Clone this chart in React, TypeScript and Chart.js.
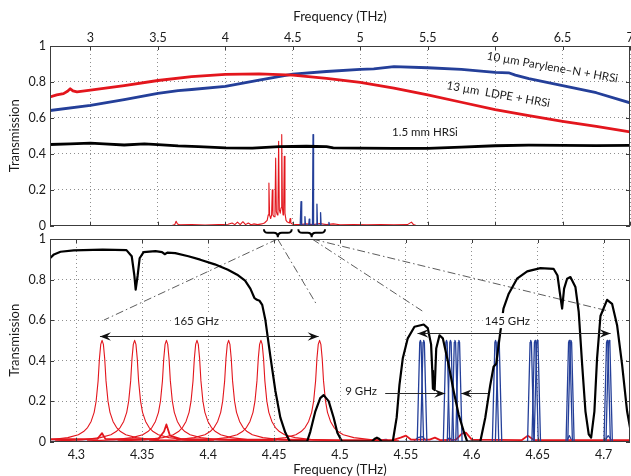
import React, { useEffect, useRef } from 'react';
import { Chart, registerables } from 'chart.js';

Chart.register(...registerables);

// ---------------- data: upper panel (broadband) ----------------
const TOP_X_TICKS = [3, 3.5, 4, 4.5, 5, 5.5, 6, 6.5, 7];
const Y_TICKS = [0, 0.2, 0.4, 0.6, 0.8, 1];

const LDPE_X = [2.70, 2.75, 2.80, 2.83, 2.85, 2.87, 2.90, 3.00, 3.25, 3.50, 3.75, 4.00, 4.25, 4.50, 4.75, 5.00, 5.25, 5.50, 5.75, 6.00, 6.25, 6.50, 6.75, 7.00];
const LDPE_Y = [0.717, 0.728, 0.735, 0.748, 0.762, 0.75, 0.745, 0.754, 0.78, 0.808, 0.83, 0.842, 0.845, 0.838, 0.82, 0.797, 0.766, 0.728, 0.687, 0.646, 0.613, 0.581, 0.553, 0.522];

const PARYLENE_X = [2.70, 3.00, 3.25, 3.50, 3.65, 3.75, 4.00, 4.25, 4.50, 4.75, 5.00, 5.10, 5.25, 5.50, 5.75, 6.00, 6.10, 6.15, 6.25, 6.50, 6.75, 7.00];
const PARYLENE_Y = [0.641, 0.669, 0.702, 0.736, 0.752, 0.758, 0.775, 0.81, 0.843, 0.858, 0.87, 0.873, 0.885, 0.879, 0.87, 0.853, 0.851, 0.838, 0.818, 0.78, 0.74, 0.684];

const HRSI_X = [2.70, 2.85, 3.00, 3.10, 3.25, 3.40, 3.50, 3.65, 3.80, 4.00, 4.20, 4.40, 4.60, 4.75, 4.80, 5.00, 5.25, 5.50, 5.75, 6.00, 6.25, 6.50, 6.75, 7.00];
const HRSI_Y = [0.452, 0.455, 0.46, 0.455, 0.449, 0.455, 0.451, 0.444, 0.44, 0.433, 0.432, 0.44, 0.442, 0.44, 0.433, 0.432, 0.43, 0.43, 0.437, 0.445, 0.448, 0.447, 0.446, 0.447];

const TOP_RED_FILTER_X = [3.60, 3.625, 3.635, 3.645, 3.66, 3.75, 3.85, 3.95, 4.02, 4.05, 4.07, 4.09, 4.11, 4.13, 4.15, 4.17, 4.19, 4.21, 4.24, 4.27,
  4.29, 4.31, 4.318, 4.323, 4.328, 4.336, 4.343, 4.348, 4.353, 4.361, 4.368, 4.373, 4.378, 4.385, 4.39, 4.395, 4.40, 4.407, 4.413, 4.418, 4.423, 4.428, 4.432, 4.437, 4.442, 4.45, 4.46, 4.475, 4.48, 4.485,
  4.50, 4.55, 4.60, 4.65, 4.70, 4.75, 4.80, 4.85, 4.95, 5.05, 5.15, 5.25, 5.35, 5.38, 5.395, 5.42];
const TOP_RED_FILTER_Y = [0.0, 0.006, 0.025, 0.01, 0.005, 0.006, 0.004, 0.006, 0.008, 0.015, 0.006, 0.02, 0.006, 0.022, 0.006, 0.015, 0.005, 0.01, 0.006, 0.01,
  0.015, 0.03, 0.06, 0.237, 0.06, 0.04, 0.06, 0.20, 0.06, 0.05, 0.08, 0.376, 0.08, 0.06, 0.09, 0.47, 0.09, 0.07, 0.1, 0.507, 0.1, 0.06, 0.08, 0.386, 0.07, 0.03, 0.02, 0.015, 0.04, 0.015,
  0.008, 0.006, 0.01, 0.006, 0.012, 0.006, 0.01, 0.005, 0.006, 0.005, 0.006, 0.005, 0.006, 0.02, 0.006, 0.0];

const TOP_BLUE_FILTER_X = [4.555, 4.561, 4.566, 4.586, 4.59, 4.594, 4.618, 4.622, 4.626, 4.646, 4.65, 4.654, 4.675, 4.679, 4.683, 4.702, 4.706, 4.71, 4.764, 4.768, 4.772];
const TOP_BLUE_FILTER_Y = [0.003, 0.134, 0.003, 0.003, 0.05, 0.003, 0.003, 0.037, 0.003, 0.003, 0.507, 0.003, 0.003, 0.12, 0.003, 0.003, 0.073, 0.003, 0.0, 0.018, 0.0];

const TOP_BLUE_BASE_X = [2.70, 7.00];
const TOP_BLUE_BASE_Y = [0.0, 0.0];

// ---------------- data: lower panel (zoom 4.28 - 4.72 THz) ----------------
const BOTTOM_X_TICKS = [4.3, 4.35, 4.4, 4.45, 4.5, 4.55, 4.6, 4.65, 4.7];

const BANDPASS_X = [4.280, 4.283, 4.288, 4.298, 4.320, 4.338, 4.342, 4.344, 4.345, 4.3465, 4.348, 4.351, 4.360, 4.365, 4.367, 4.369, 4.375, 4.385, 4.394, 4.405, 4.415, 4.422, 4.428, 4.432, 4.435, 4.437, 4.439, 4.441,
  4.4434, 4.4472, 4.451, 4.4547, 4.4585, 4.462, 4.475, 4.4775, 4.4813, 4.485, 4.4876, 4.4914, 4.4952, 4.498, 4.5016, 4.524, 4.5265, 4.528, 4.5295, 4.532, 4.540,
  4.543, 4.5451, 4.5476, 4.5514, 4.5565, 4.5635, 4.5666, 4.5691, 4.5700, 4.5705, 4.5718, 4.573, 4.5755, 4.578, 4.5824, 4.5862, 4.590, 4.5938, 4.5965, 4.6064,
  4.6102, 4.614, 4.6165, 4.6185, 4.621, 4.624, 4.628, 4.6343, 4.642, 4.652, 4.662, 4.665, 4.6667, 4.6685, 4.670, 4.6723, 4.6748, 4.6786, 4.6811, 4.6837, 4.6862, 4.6887, 4.6905,
  4.693, 4.695, 4.6976, 4.7026, 4.7064, 4.7102, 4.714, 4.7178, 4.720];
const BANDPASS_Y = [0.905, 0.924, 0.937, 0.944, 0.948, 0.945, 0.915, 0.82, 0.75, 0.82, 0.905, 0.935, 0.94, 0.935, 0.925, 0.933, 0.93, 0.915, 0.898, 0.875, 0.848, 0.824, 0.795, 0.755, 0.71, 0.70, 0.695, 0.675,
  0.60, 0.42, 0.25, 0.12, 0.045, 0.0, 0.0, 0.05, 0.15, 0.215, 0.23, 0.2, 0.118, 0.044, 0.0, 0.0, 0.015, 0.02, 0.015, 0.0, 0.0,
  0.12, 0.28, 0.41, 0.51, 0.567, 0.578, 0.56, 0.48, 0.35, 0.262, 0.255, 0.46, 0.525, 0.51, 0.38, 0.25, 0.134, 0.052, 0.0, 0.0,
  0.118, 0.28, 0.37, 0.385, 0.51, 0.657, 0.73, 0.804, 0.84, 0.856, 0.853, 0.82, 0.738, 0.657, 0.755, 0.804, 0.812, 0.763, 0.64, 0.38, 0.15, 0.036, 0.02,
  0.15, 0.41, 0.62, 0.70, 0.68, 0.575, 0.38, 0.15, 0.07];

// red filter resonances (165 GHz span), each with the same line shape read from the 4.32 THz peak
const RED_PEAKS = [4.3195, 4.3442, 4.3683, 4.3915, 4.4155, 4.4400, 4.4845];
const RED_SHAPE_DX = [-0.06, -0.04, -0.026, -0.018, -0.014, -0.011, -0.0083, -0.006, -0.0045, -0.003, -0.002, -0.001, 0, 0.001, 0.002, 0.003, 0.0045, 0.006, 0.0083, 0.011, 0.014, 0.018, 0.026, 0.04, 0.06];
const RED_SHAPE_Y = [0.004, 0.009, 0.02, 0.034, 0.05, 0.07, 0.1, 0.145, 0.2, 0.3, 0.41, 0.48, 0.5, 0.48, 0.41, 0.3, 0.2, 0.145, 0.1, 0.07, 0.05, 0.034, 0.02, 0.009, 0.004];

const RED_BASE_X = [4.280, 4.300, 4.316, 4.3195, 4.322, 4.330, 4.362, 4.3665, 4.3683, 4.371, 4.380, 4.420, 4.460, 4.500, 4.540, 4.546, 4.550, 4.554, 4.568, 4.572, 4.576, 4.588, 4.5925, 4.5955, 4.600, 4.638, 4.6425, 4.647, 4.690, 4.720];
const RED_BASE_Y = [0.012, 0.012, 0.014, 0.042, 0.014, 0.012, 0.012, 0.05, 0.085, 0.03, 0.012, 0.01, 0.01, 0.008, 0.008, 0.02, 0.03, 0.01, 0.01, 0.02, 0.008, 0.01, 0.04, 0.045, 0.01, 0.008, 0.03, 0.008, 0.008, 0.008];

// blue filter resonances (145 GHz span, 9 GHz sub-spacing)
const BLUE_PEAKS = [4.561, 4.5635, 4.5808, 4.5838, 4.5872, 4.5902, 4.618, 4.6203, 4.6447, 4.648, 4.6497, 4.6739, 4.6752, 4.7027, 4.7042];
const BLUE_SHAPE_DX = [-0.0024, -0.0005, 0, 0.0005, 0.0024];
const BLUE_SHAPE_Y = [0.003, 0.49, 0.5, 0.49, 0.003];

const BLUE_BASE_X = [4.28, 4.44, 4.4445, 4.4465, 4.4485, 4.53, 4.533, 4.535, 4.537, 4.556, 4.559, 4.5625, 4.566, 4.58, 4.583, 4.586, 4.672, 4.674, 4.676, 4.7005, 4.7035, 4.7065, 4.72];
const BLUE_BASE_Y = [0.002, 0.002, 0.01, 0.014, 0.002, 0.002, 0.01, 0.012, 0.002, 0.002, 0.02, 0.025, 0.002, 0.002, 0.02, 0.002, 0.002, 0.03, 0.002, 0.002, 0.03, 0.002, 0.002];

// dash-dot guide lines from the braces to the filter groups
const GUIDE_START_X = [4.4527, 4.4527, 4.4788, 4.4788];
const GUIDE_END_X = [4.3209, 4.4825, 4.5624, 4.7035];
const GUIDE_END_Y = [0.60, 0.674, 0.645, 0.645];

// ---------------- styles ----------------
const FONT_FAMILY = 'Lato, "Open Sans", "DejaVu Sans", sans-serif';
const RED = '#e3161d';
const BLUE = '#243f99';
const BLACK = '#000000';
const GRID = '#8f8f8f';
const FRAME = '#3c3c3c';
const TEXT = '#1a1a1a';

const pts = (xs: number[], ys: number[]) => xs.map((x, i) => ({ x, y: ys[i] }));
const shaped = (c: number, dx: number[], ys: number[]) => dx.map((d, i) => ({ x: c + d, y: ys[i] }));

function lineDs(data: any[], color: string, width: number, extra: any = {}) {
  return {
    data,
    borderColor: color,
    backgroundColor: color,
    borderWidth: width,
    pointRadius: 0,
    pointHoverRadius: 0,
    fill: false,
    tension: 0,
    borderJoinStyle: 'round',
    borderCapStyle: 'round',
    ...extra,
  };
}

const framePlugin = {
  id: 'matlabFrame',
  afterDatasetsDraw(chart: any) {
    const { ctx, chartArea: a, scales } = chart;
    const xs = scales.x;
    const ys = scales.y;
    ctx.save();
    ctx.strokeStyle = FRAME;
    ctx.lineWidth = 1;
    ctx.strokeRect(Math.round(a.left) + 0.5, Math.round(a.top) + 0.5, Math.round(a.right - a.left) - 1, Math.round(a.bottom - a.top) - 1);
    ctx.beginPath();
    xs.ticks.forEach((t: any) => {
      const px = Math.round(xs.getPixelForValue(t.value)) + 0.5;
      ctx.moveTo(px, a.top);
      ctx.lineTo(px, a.top + 4);
      ctx.moveTo(px, a.bottom);
      ctx.lineTo(px, a.bottom - 4);
    });
    ys.ticks.forEach((t: any) => {
      const py = Math.round(ys.getPixelForValue(t.value)) + 0.5;
      ctx.moveTo(a.left, py);
      ctx.lineTo(a.left + 4, py);
      ctx.moveTo(a.right, py);
      ctx.lineTo(a.right - 4, py);
    });
    ctx.stroke();
    ctx.restore();
  },
};

const TOP_NOTES = [
  { text: '10 \u00b5m Parylene\u2013N + HRSi', x: 6.425, y: 0.881, angle: 10 },
  { text: '13 \u00b5m  LDPE + HRSi', x: 6.024, y: 0.73, angle: 10 },
  { text: '1.5 mm HRSi', x: 5.48, y: 0.518, angle: 0 },
];
const BRACES = [
  { from: 4.286, to: 4.492 },
  { from: 4.541, to: 4.739 },
];

const topNotesPlugin = {
  id: 'topNotes',
  afterDraw(chart: any) {
    const { ctx, scales, chartArea } = chart;
    const xs = scales.x;
    const ys = scales.y;
    ctx.save();
    ctx.font = `11.5px ${FONT_FAMILY}`;
    ctx.fillStyle = TEXT;
    ctx.textAlign = 'center';
    ctx.textBaseline = 'middle';
    TOP_NOTES.forEach((n) => {
      ctx.save();
      ctx.translate(xs.getPixelForValue(n.x), ys.getPixelForValue(n.y));
      ctx.rotate((n.angle * Math.PI) / 180);
      ctx.fillText(n.text, 0, 0);
      ctx.restore();
    });
    // curly braces under the axis, marking the zoomed ranges
    const yT = chartArea.bottom + 3.5;
    const yM = chartArea.bottom + 7;
    const yB = chartArea.bottom + 11.5;
    ctx.strokeStyle = '#000';
    ctx.lineWidth = 1.9;
    BRACES.forEach((b) => {
      const x0 = xs.getPixelForValue(b.from);
      const x1 = xs.getPixelForValue(b.to);
      const xm = (x0 + x1) / 2;
      const r = 4;
      ctx.beginPath();
      ctx.moveTo(x0, yT);
      ctx.quadraticCurveTo(x0, yM, x0 + r, yM);
      ctx.lineTo(xm - r, yM);
      ctx.quadraticCurveTo(xm, yM, xm, yB);
      ctx.quadraticCurveTo(xm, yM, xm + r, yM);
      ctx.lineTo(x1 - r, yM);
      ctx.quadraticCurveTo(x1, yM, x1, yT);
      ctx.stroke();
    });
    ctx.restore();
  },
};

const BOTTOM_NOTES = [
  { text: '165 GHz', x: 4.391, y: 0.595 },
  { text: '145 GHz', x: 4.627, y: 0.595 },
  { text: '9 GHz', x: 4.516, y: 0.25 },
];
const ARROWS = [
  { x0: 4.3179, x1: 4.4838, y: 0.52, heads: 'both' },
  { x0: 4.5588, x1: 4.7053, y: 0.538, heads: 'both' },
  { x0: 4.5343, x1: 4.5798, y: 0.24, heads: 'end' },
  { x0: 4.6125, x1: 4.5919, y: 0.24, heads: 'end' },
];

function arrowHead(ctx: CanvasRenderingContext2D, tx: number, ty: number, dir: number) {
  const L = 11;
  const W = 4.2;
  const N = 7;
  ctx.beginPath();
  ctx.moveTo(tx, ty);
  ctx.lineTo(tx - dir * L, ty - W);
  ctx.lineTo(tx - dir * N, ty);
  ctx.lineTo(tx - dir * L, ty + W);
  ctx.closePath();
  ctx.fill();
}

const bottomNotesPlugin = {
  id: 'bottomNotes',
  afterDatasetsDraw(chart: any) {
    const { ctx, scales } = chart;
    const xs = scales.x;
    const ys = scales.y;
    ctx.save();
    // labels sit on a white box (the curve is interrupted behind them)
    ctx.font = `11.5px ${FONT_FAMILY}`;
    ctx.textAlign = 'center';
    ctx.textBaseline = 'middle';
    BOTTOM_NOTES.forEach((n) => {
      const px = xs.getPixelForValue(n.x);
      const py = ys.getPixelForValue(n.y);
      const w = ctx.measureText(n.text).width;
      ctx.fillStyle = '#ffffff';
      ctx.fillRect(px - w / 2 - 2, py - 8, w + 4, 15);
      ctx.fillStyle = TEXT;
      ctx.fillText(n.text, px, py);
    });
    ctx.strokeStyle = '#2a2a2a';
    ctx.fillStyle = '#111';
    ctx.lineWidth = 1;
    ARROWS.forEach((a) => {
      const p0 = xs.getPixelForValue(a.x0);
      const p1 = xs.getPixelForValue(a.x1);
      const py = Math.round(ys.getPixelForValue(a.y)) + 0.5;
      ctx.beginPath();
      ctx.moveTo(p0, py);
      ctx.lineTo(p1, py);
      ctx.stroke();
      const dir = p1 > p0 ? 1 : -1;
      arrowHead(ctx, p1, py, dir);
      if (a.heads === 'both') arrowHead(ctx, p0, py, -dir);
    });
    ctx.restore();
  },
};

const tickFont = { family: FONT_FAMILY, size: 12.5 };
const titleFont = { family: FONT_FAMILY, size: 13 };
const fmt = (v: any) => String(v);

function yScale() {
  return {
    type: 'linear',
    min: 0,
    max: 1,
    afterBuildTicks: (s: any) => {
      s.ticks = Y_TICKS.map((v) => ({ value: v }));
    },
    ticks: { font: tickFont, color: TEXT, padding: 4, callback: fmt, autoSkip: false },
    grid: { color: GRID, lineWidth: 1, drawTicks: false },
    border: { display: false, dash: [1, 3] },
    title: { display: true, text: 'Transmission', font: titleFont, color: TEXT, padding: { top: 7, bottom: 0 } },
    afterFit: (s: any) => {
      s.width = 50;
      s.paddingTop = 0;
      s.paddingBottom = 0;
    },
  };
}

export default function App() {
  const topRef = useRef<HTMLCanvasElement>(null);
  const botRef = useRef<HTMLCanvasElement>(null);

  useEffect(() => {
    const topChart = new Chart(topRef.current as HTMLCanvasElement, {
      type: 'line',
      data: {
        datasets: [
          lineDs(pts(LDPE_X, LDPE_Y), RED, 2.8),
          lineDs(pts(PARYLENE_X, PARYLENE_Y), BLUE, 2.8),
          lineDs(pts(HRSI_X, HRSI_Y), BLACK, 2.8),
          lineDs(pts(TOP_BLUE_FILTER_X, TOP_BLUE_FILTER_Y), BLUE, 1.3),
          lineDs(pts(TOP_RED_FILTER_X, TOP_RED_FILTER_Y), RED, 1.1),
          lineDs(pts(TOP_BLUE_BASE_X, TOP_BLUE_BASE_Y), BLUE, 1.4),
        ] as any,
      },
      options: {
        animation: false,
        responsive: false,
        events: [],
        layout: { padding: { left: 0, right: 1, top: 0, bottom: 14.3 } },
        plugins: { legend: { display: false }, tooltip: { enabled: false } },
        scales: {
          x: {
            type: 'linear',
            position: 'top',
            min: 2.7,
            max: 7,
            afterBuildTicks: (s: any) => {
              s.ticks = TOP_X_TICKS.map((v) => ({ value: v }));
            },
            ticks: { font: tickFont, color: TEXT, padding: 1, callback: fmt, autoSkip: false, maxRotation: 0 },
            grid: { color: GRID, lineWidth: 1, drawTicks: false },
            border: { display: false, dash: [1, 3] },
            title: { display: true, text: 'Frequency (THz)', font: titleFont, color: TEXT, padding: { top: 9, bottom: 0 } },
            afterFit: (s: any) => {
              s.height = 46;
              s.paddingLeft = 0;
              s.paddingRight = 0;
            },
          },
          y: yScale(),
        } as any,
      },
      plugins: [framePlugin, topNotesPlugin],
    });

    const bottomSets: any[] = [];
    bottomSets.push(lineDs(pts(BANDPASS_X, BANDPASS_Y), BLACK, 2.2));
    BLUE_PEAKS.forEach((c) => bottomSets.push(lineDs(shaped(c, BLUE_SHAPE_DX, BLUE_SHAPE_Y), BLUE, 1.3)));
    bottomSets.push(lineDs(pts(RED_BASE_X, RED_BASE_Y), RED, 1.8));
    RED_PEAKS.forEach((c) => bottomSets.push(lineDs(shaped(c, RED_SHAPE_DX, RED_SHAPE_Y), RED, 1.1)));
    bottomSets.push(lineDs(pts(BLUE_BASE_X, BLUE_BASE_Y), BLUE, 1.2));
    GUIDE_START_X.forEach((sx, i) =>
      bottomSets.push(
        lineDs([{ x: sx, y: 1 }, { x: GUIDE_END_X[i], y: GUIDE_END_Y[i] }], '#4a4a4a', 0.9, {
          borderDash: [8, 3, 1.5, 3],
          borderCapStyle: 'butt',
        })
      )
    );

    const bottomChart = new Chart(botRef.current as HTMLCanvasElement, {
      type: 'line',
      data: { datasets: bottomSets },
      options: {
        animation: false,
        responsive: false,
        events: [],
        layout: { padding: { left: 0, right: 1, top: 7, bottom: 0 } },
        plugins: { legend: { display: false }, tooltip: { enabled: false } },
        scales: {
          x: {
            type: 'linear',
            position: 'bottom',
            min: 4.28,
            max: 4.72,
            afterBuildTicks: (s: any) => {
              s.ticks = BOTTOM_X_TICKS.map((v) => ({ value: v }));
            },
            ticks: { font: tickFont, color: TEXT, padding: 6, callback: fmt, autoSkip: false, maxRotation: 0 },
            grid: { color: GRID, lineWidth: 1, drawTicks: false },
            border: { display: false, dash: [1, 3] },
            title: { display: true, text: 'Frequency (THz)', font: titleFont, color: TEXT, padding: { top: 0, bottom: 6.2 } },
            afterFit: (s: any) => {
              s.height = 42.3;
              s.paddingLeft = 0;
              s.paddingRight = 0;
            },
          },
          y: yScale(),
        } as any,
      },
      plugins: [framePlugin, bottomNotesPlugin],
    });

    return () => {
      topChart.destroy();
      bottomChart.destroy();
    };
  }, []);

  return (
    <div style={{ position: 'fixed', left: 0, top: 0, width: 631, height: 476, overflow: 'hidden', background: '#ffffff' }}>
      <canvas ref={topRef} width={631} height={240} style={{ position: 'absolute', left: 0, top: 0, width: 631, height: 240 }} />
      <canvas ref={botRef} width={631} height={252} style={{ position: 'absolute', left: 0, top: 232, width: 631, height: 252 }} />
    </div>
  );
}
